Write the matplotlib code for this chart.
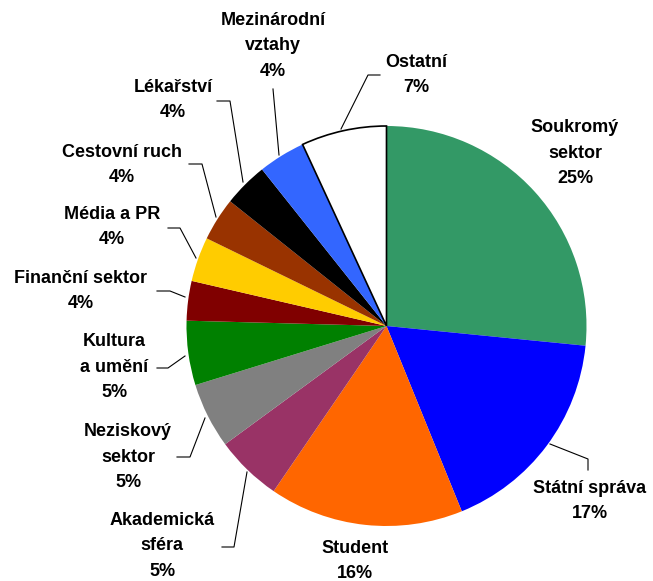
import matplotlib.pyplot as plt

# slice shares (clockwise from 12 o'clock)
categories = ["Soukromý\nsektor", "Státní správa", "Student", "Akademická\nsféra",
              "Neziskový\nsektor", "Kultura\na umění", "Finanční sektor", "Média a PR",
              "Cestovní ruch", "Lékařství", "Mezinárodní\nvztahy", "Ostatní"]
values = [26.6, 17.3, 15.7, 5.4, 5.3, 5.2, 3.2, 3.6, 3.5, 3.6, 3.8, 6.9]
pct_labels = ["25%", "17%", "16%", "5%", "5%", "5%", "4%", "4%", "4%", "4%", "4%", "7%"]

colors = ["#339966", "#0000FF", "#FF6600", "#993366", "#808080", "#008000",
          "#800000", "#FFCC00", "#993300", "#000000", "#3366FF", "#FFFFFF"]

# label centres in pixels (x, y from top)
label_pos = [(575, 153), (590, 501), (355, 561), (162, 546), (128, 457), (114, 367),
             (81, 291), (112, 227), (122, 165), (173, 100), (273, 46), (416, 75)]

# leader lines in pixels (y from top)
leaders = [None,
           [(550, 444), (588, 459), (588, 470)],
           None,
           [(222, 547), (234, 547), (247, 472)],
           [(177, 457), (190, 457), (205, 418)],
           [(157, 368), (168, 368), (185, 356)],
           [(157, 291), (170, 291), (185, 297)],
           [(168, 228), (180, 228), (196, 258)],
           [(189, 164), (202, 164), (216, 217)],
           [(217, 101), (230, 101), (243, 182)],
           [(273, 89), (279, 155)],
           [(380, 75), (368, 75), (341, 129)]]

W, H = 653, 581
fig = plt.figure(figsize=(W / 100, H / 100), dpi=100)
ax = fig.add_axes([0, 0, 1, 1])

wedges, _ = ax.pie(values, colors=colors, startangle=90, counterclock=False,
                   center=(386.5, H - 326), radius=200,
                   wedgeprops=dict(linewidth=0))
wedges[-1].set_edgecolor("black")
wedges[-1].set_linewidth(1.2)

ax.set_xlim(0, W)
ax.set_ylim(0, H)
ax.set_aspect("equal")
ax.axis("off")

for name, pct, (x, y) in zip(categories, pct_labels, label_pos):
    ax.text(x, H - y, name + "\n" + pct, ha="center", va="center",
            fontsize=13, fontweight="bold", family="Liberation Sans",
            linespacing=1.62)

for pts in leaders:
    if pts is None:
        continue
    xs = [p[0] for p in pts]
    ys = [H - p[1] for p in pts]
    ax.plot(xs, ys, color="black", linewidth=0.8)

fig.savefig("out.png", dpi=100)
